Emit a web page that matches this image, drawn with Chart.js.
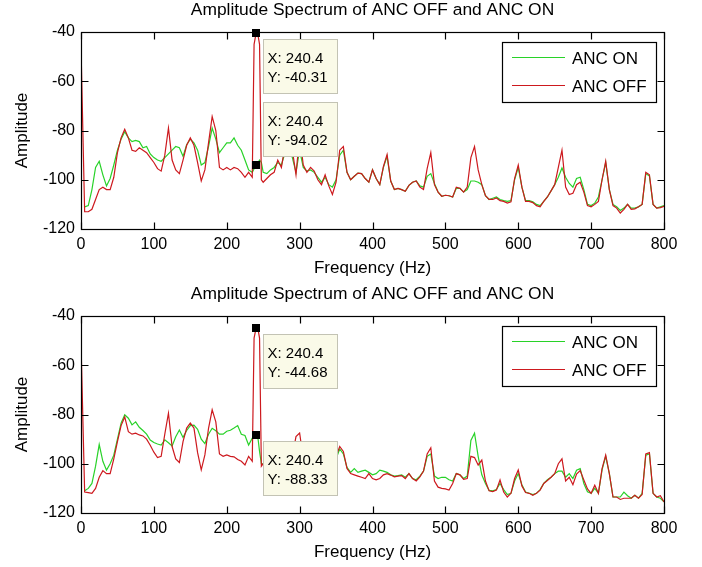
<!DOCTYPE html>
<html><head><meta charset="utf-8">
<script src="https://cdn.jsdelivr.net/npm/chart.js@4.4.0/dist/chart.umd.min.js"></script>
<style>
html,body{margin:0;padding:0;background:#fff;overflow:hidden;width:702px;height:567px;}
canvas{position:absolute;left:0;}
#c1{top:0}
#c2{top:284px}
</style></head><body>
<canvas id="c1" width="702" height="284"></canvas>
<canvas id="c2" width="702" height="284"></canvas>
<script>
// ---------- data ----------
const chartTitle = 'Amplitude Spectrum of ANC OFF and ANC ON';
const xAxisLabel = 'Frequency (Hz)';
const yAxisLabel = 'Amplitude';
const seriesNames = ['ANC ON', 'ANC OFF'];
const xTickValues = [0, 100, 200, 300, 400, 500, 600, 700, 800];
const yTickValues = [-120, -100, -80, -60, -40];

const freqHz = [
  0,5,10,15,20,25,30,35,40,45,
  50,55,60,65,70,75,80,85,90,95,
  100,105,110,115,120,125,130,135,140,145,
  150,155,160,165,170,175,180,185,190,195,
  200,205,210,215,220,225,230,235,
  237.5,240.4,243,245,247.5,
  250,255,260,265,270,275,280,285,290,295,
  300,305,310,315,320,325,330,335,340,345,
  350,355,360,365,370,375,380,385,390,395,
  400,405,410,415,420,425,430,435,440,445,
  450,455,460,465,470,475,480,485,490,495,
  500,505,510,515,520,525,530,535,540,545,
  550,555,560,565,570,575,580,585,590,595,
  600,605,610,615,620,625,630,635,640,645,
  650,655,660,665,670,675,680,685,690,695,
  700,705,710,715,720,725,730,735,740,745,
  750,755,760,765,770,775,780,785,790,795,
  800
];

// top panel, ANC ON (green)
const ancOnTop = [
  null,-111,-110.5,-104,-95,-92.5,-98,-102.5,-99.5,-94,
  -88,-83.5,-80.5,-83,-84.5,-84,-84.5,-87,-86.5,-89.5,
  -91,-92,-92.5,-91,-89.5,-88,-86.5,-87,-90.5,-85.8,
  -83.5,-85,-88,-94,-93,-86.5,-79,-83.5,-89,-87,
  -85,-85,-83,-86,-88,-92,-96,-97,
  -95.5,-94.02,-93,-92,-93,
  -97,-97.5,-96,-95,-93,-94,-89,-86,-91,-97,
  -88,-95,-96.5,-96,-97,-99,-101,-99,-102,-103,
  -100,-90,-88,-97,-100,-98.6,-97.3,-97.5,-99.5,-101,
  -96,-99.5,-102,-95,-90.5,-100.5,-104,-103.5,-104,-104.7,
  -102.3,-101,-100.5,-102.5,-103,-98.6,-97.5,-101.5,-105,-106.7,
  -106.3,-106.5,-107,-103.5,-103.5,-105,-104,-100.5,-100.5,-101,
  -102,-106.5,-108,-107.5,-107,-108,-108.5,-108.8,-108.5,-100,
  -95,-103,-108.5,-108.5,-109,-110,-110.5,-108.8,-107,-104.5,
  -102,-99,-95.2,-99,-101.5,-103,-99.5,-99,-104,-110,
  -110.5,-109.5,-107,-100,-93,-104,-110,-111,-112.5,-111.5,
  -110,-111.5,-111.5,-111,-110,-97.5,-98.5,-110,-111.5,-111,
  -110.5
];

// top panel, ANC OFF (red)
const ancOffTop = [
  -46,-113,-113,-112,-108,-104,-103,-104,-104,-99,
  -89,-83,-79.5,-83,-88,-88.5,-87,-88,-89,-91,
  -93,-95.5,-96.5,-90,-79,-92,-96,-97.5,-92,-86,
  -83,-86,-93,-100.5,-96,-85,-74.3,-80,-95,-96,
  -95,-96,-95,-95.5,-97,-99,-97,-99,
  -45,-40.31,-41.5,-45,-100,
  -101,-99.5,-98,-97,-92,-95,-86,-80,-88,-98,
  -82,-94,-97,-95,-96.5,-100,-102,-98,-102.5,-106,
  -101,-88,-86.5,-97,-100,-98.6,-97.3,-97.5,-99.5,-101,
  -96,-99.5,-102,-94.6,-89.8,-100.5,-104,-103.5,-104,-104.7,
  -102.3,-101,-100.5,-103,-104,-95.5,-89,-102,-105,-106.7,
  -106.3,-106.5,-107,-103,-103.5,-105,-103,-91,-86.5,-96,
  -102,-106.5,-108,-108,-107.4,-108.5,-108.8,-109.5,-109,-99.5,
  -94,-103,-108.8,-108.8,-109.3,-110.5,-111,-108.8,-107,-104.5,
  -102,-95,-88,-103,-106,-105.5,-102,-101,-105,-110.5,
  -111,-110,-108.8,-100,-92.5,-104,-110.5,-111.5,-113.5,-112,
  -110,-112,-111.8,-111,-110,-97,-98,-110,-111.5,-111.3,
  -110.8
];

// bottom panel, ANC ON (green)
const ancOnBottom = [
  null,-111,-110,-108,-101,-92.2,-99,-102.6,-100,-96.5,
  -90,-83.5,-80.1,-81.5,-84.2,-83,-85.2,-86.5,-88,-90.4,
  -91.4,-92,-92.4,-90.3,-91.5,-92.8,-89,-86.3,-89.3,-86.5,
  -84.5,-84.3,-86,-90,-91.8,-88,-85.6,-86.6,-88,-88,
  -86.8,-86.4,-85.5,-84.5,-88,-88.5,-92.4,-89.6,
  -89,-88.33,-90,-95,-100,
  -100,-101,-102,-103,-102,-102.5,-103,-103,-100,-97,
  -97,-100,-103,-103,-104,-104,-103,-105,-104,-101,
  -98,-94,-96,-101.5,-103.5,-102,-103.5,-103,-102.6,-103.5,
  -104.5,-104,-102.6,-103,-103.5,-104.5,-105,-104.8,-104.5,-105.5,
  -104,-106,-106.5,-105,-103,-97,-96,-105,-106,-105.5,
  -105.5,-106.5,-107,-104,-104.5,-106,-105,-90.5,-87.6,-97,
  -104.5,-108,-110.8,-111,-110.5,-108,-110.5,-112.5,-112,-107,
  -104,-108.5,-111.5,-112,-112.5,-112,-110.5,-108,-106.5,-105.5,
  -104,-103,-103,-105.5,-104,-106,-102.6,-102,-108,-111.4,
  -112,-110,-112,-102.5,-97,-104,-113.5,-113.5,-113.5,-111.5,
  -113,-114,-112.8,-114,-112,-96.5,-96,-112,-113.5,-114,
  -115.5
];

// bottom panel, ANC OFF (red)
const ancOffBottom = [
  -50.7,-111.5,-111.7,-112,-110,-105.5,-102.8,-104,-104,-98,
  -91,-84.5,-81,-87,-88,-87.6,-88.3,-88.7,-90,-92.5,
  -95.3,-97.5,-97,-88,-79.5,-93,-98,-99.5,-91,-85.5,
  -83.5,-85.5,-95.5,-102.5,-96.4,-85.6,-78.1,-83,-96,-97,
  -96.4,-97,-97.2,-98.3,-99,-100.5,-97,-99,
  -49,-44.68,-45.5,-49,-101,
  -100,-103,-104,-103,-102,-103,-104,-103,-97,-89,
  -87.5,-98,-104,-103,-104,-105,-104,-106,-105,-101,
  -97,-93,-95,-101.9,-104,-104.5,-105,-105.5,-106,-104,
  -106,-106.5,-106,-104.5,-104,-104.6,-105.3,-105,-104.8,-106,
  -104,-106,-107,-105.3,-103,-96,-93.5,-107,-109.5,-110,
  -110.2,-110.7,-108,-104,-104.5,-106.3,-106,-97,-97.5,-100.5,
  -98.5,-107,-111,-111.3,-110.7,-106.6,-111.5,-113.5,-112,-106,
  -102.5,-109,-111.7,-112,-112.8,-112,-110.7,-108,-106.8,-105.5,
  -104,-100,-98,-107,-105.5,-108.5,-104.2,-102.8,-106.6,-110.2,
  -112,-108.7,-112,-102,-96.5,-104,-113.5,-113.5,-114.5,-114,
  -114,-114,-112.8,-114,-112.5,-96,-95.5,-112,-113.5,-113,
  -115.5
];

// data tips: which series (0 = ON, 1 = OFF) and which frequency
const tipsTop = [{series: 1, x: 240.4, above: false}, {series: 0, x: 240.4, above: true}];
const tipsBottom = [{series: 1, x: 240.4, above: false}, {series: 0, x: 240.4, above: false}];

[ancOnTop, ancOffTop, ancOnBottom, ancOffBottom].forEach((a, i) => {
  if (a.length !== freqHz.length) console.error('length mismatch', i, a.length, freqHz.length);
});

// ---------- styling / drawing ----------
const FONT = "'Liberation Sans', Arial, Helvetica, sans-serif";
Chart.defaults.font.family = FONT;
Chart.defaults.color = '#000';
const GREEN = 'rgb(40,210,40)';
const RED = 'rgb(205,25,30)';

const boxPlugin = {
  id: 'mbox',
  afterDatasetsDraw(chart) {
    const {ctx, chartArea: a, scales: {x, y}} = chart;
    const L = Math.round(a.left) + 0.5, T = Math.round(a.top) + 0.5;
    const R = Math.round(a.right) + 0.5, B = Math.round(a.bottom) + 0.5;
    ctx.save();
    ctx.strokeStyle = '#000';
    ctx.lineWidth = 1.2;
    ctx.strokeRect(L, T, R - L, B - T);
    const len = 7;
    ctx.beginPath();
    x.ticks.forEach(t => {
      const px = Math.round(x.getPixelForValue(t.value)) + 0.5;
      ctx.moveTo(px, B); ctx.lineTo(px, B - len);
      ctx.moveTo(px, T); ctx.lineTo(px, T + len);
    });
    y.ticks.forEach(t => {
      const py = Math.round(y.getPixelForValue(t.value)) + 0.5;
      ctx.moveTo(L, py); ctx.lineTo(L + len, py);
      ctx.moveTo(R, py); ctx.lineTo(R - len, py);
    });
    ctx.stroke();
    ctx.restore();
  }
};

const titlePlugin = {
  id: 'mtitle',
  afterDraw(chart, args, opts) {
    const {ctx, chartArea: a} = chart;
    ctx.save();
    ctx.font = '17.4px ' + FONT;
    ctx.fillStyle = '#000';
    ctx.textAlign = 'center';
    ctx.textBaseline = 'middle';
    ctx.fillText(opts.text, (a.left + a.right) / 2, opts.y);
    ctx.restore();
  }
};

const legendPlugin = {
  id: 'mlegend',
  afterDraw(chart, args, o) {
    const {ctx} = chart;
    ctx.save();
    ctx.fillStyle = '#fff';
    ctx.fillRect(o.x, o.y, o.w, o.h);
    ctx.strokeStyle = '#000';
    ctx.lineWidth = 1.2;
    ctx.strokeRect(o.x + 0.5, o.y + 0.5, o.w, o.h);
    ctx.font = '17px ' + FONT;
    ctx.textBaseline = 'middle';
    ctx.textAlign = 'left';
    chart.data.datasets.forEach((ds, i) => {
      const yy = Math.round(o.y + o.first + i * o.gap) + 0.5;
      ctx.strokeStyle = ds.borderColor;
      ctx.lineWidth = 1.2;
      ctx.beginPath();
      ctx.moveTo(o.x + 10, yy);
      ctx.lineTo(o.x + 63, yy);
      ctx.stroke();
      ctx.fillStyle = '#000';
      ctx.fillText(ds.label, o.x + 70, yy + 2);
    });
    ctx.restore();
  }
};

const tipPlugin = {
  id: 'mtips',
  afterDraw(chart, args, o) {
    const {ctx, scales: {x, y}} = chart;
    ctx.save();
    o.tips.forEach(tip => {
      const ds = chart.data.datasets[tip.series];
      const pt = ds.data.find(p => p.x === tip.x);
      const px = x.getPixelForValue(pt.x), py = y.getPixelForValue(pt.y);
      const bw = 74, bh = 54;
      const bx = Math.round(px + 7) + 0.5;
      const by = Math.round(tip.above ? py - 9 - bh : py + 6) + 0.5;
      ctx.fillStyle = 'rgb(250,250,232)';
      ctx.fillRect(bx, by, bw, bh);
      ctx.strokeStyle = 'rgb(195,195,180)';
      ctx.lineWidth = 1;
      ctx.strokeRect(bx, by, bw, bh);
      ctx.fillStyle = '#000';
      ctx.font = '15px ' + FONT;
      ctx.textAlign = 'left';
      ctx.textBaseline = 'middle';
      ctx.fillText('X: ' + pt.x, bx + 4, by + 19);
      ctx.fillText('Y: ' + pt.y, bx + 4, by + 38);
      ctx.fillStyle = '#000';
      ctx.fillRect(Math.round(px) - 4, Math.round(py) - 4, 8, 8);
    });
    ctx.restore();
  }
};

function pts(vals) { return freqHz.map((f, i) => ({x: f, y: vals[i]})); }

function makeChart(id, onVals, offVals, tips) {
  return new Chart(document.getElementById(id), {
    type: 'line',
    data: {
      datasets: [
        {label: seriesNames[0], data: pts(onVals), borderColor: GREEN, borderWidth: 1.2, pointRadius: 0, tension: 0, order: 1, fill: false},
        {label: seriesNames[1], data: pts(offVals), borderColor: RED, borderWidth: 1.2, pointRadius: 0, tension: 0, order: 0, fill: false}
      ]
    },
    options: {
      responsive: false,
      animation: false,
      devicePixelRatio: 1,
      events: [],
      layout: {padding: {left: 0, right: 38, top: 32, bottom: 0}},
      scales: {
        x: {
          type: 'linear', min: 0, max: 800,
          afterBuildTicks: s => { s.ticks = xTickValues.map(v => ({value: v})); },
          afterFit: s => { s.height = 55; },
          grid: {display: false, drawTicks: false},
          border: {display: false},
          ticks: {font: {size: 16}, padding: 6, maxRotation: 0, autoSkip: false, color: '#000'},
          title: {display: true, text: xAxisLabel, font: {size: 17}, padding: {top: 0, bottom: 5}, color: '#000'}
        },
        y: {
          type: 'linear', min: -120, max: -40,
          afterBuildTicks: s => { s.ticks = yTickValues.map(v => ({value: v})); },
          afterFit: s => { s.width = 81; },
          grid: {display: false, drawTicks: false},
          border: {display: false},
          ticks: {font: {size: 16}, padding: 6, color: '#000'},
          title: {display: true, text: yAxisLabel, font: {size: 17}, padding: {top: 12, bottom: 0}, color: '#000'}
        }
      },
      plugins: {
        legend: {display: false},
        tooltip: {enabled: false},
        title: {display: false},
        mtitle: {text: chartTitle, y: 10.5},
        mlegend: {x: 502, y: 42, w: 154, h: 60, first: 15.3, gap: 27.7},
        mtips: {tips: tips}
      }
    },
    plugins: [boxPlugin, titlePlugin, legendPlugin, tipPlugin]
  });
}

makeChart('c1', ancOnTop, ancOffTop, tipsTop);
makeChart('c2', ancOnBottom, ancOffBottom, tipsBottom);
</script>
</body></html>
